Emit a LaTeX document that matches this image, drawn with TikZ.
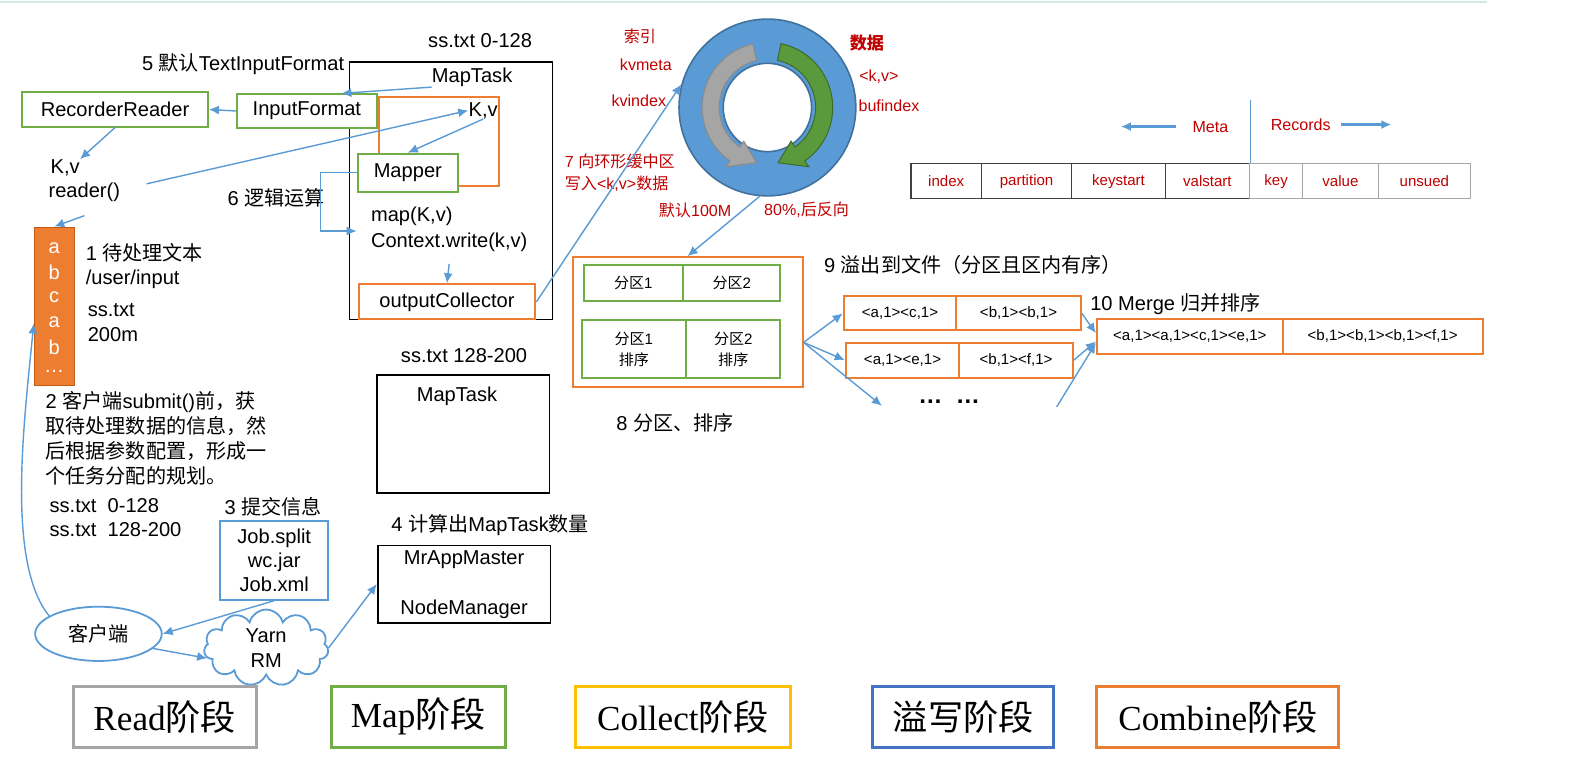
\documentclass[tikz,border=0pt]{standalone}
\usepackage{fontspec}
\setmainfont{Liberation Sans}
\newfontfamily\cjk{Noto Sans CJK SC}
\newfontfamily\stagefont{Liberation Serif}
\usepackage{tikz}
\usetikzlibrary{arrows.meta,shapes.geometric,shapes.symbols,calc}
\usepackage{xcolor}
\newcommand{\zh}[1]{{\cjk #1}}
\definecolor{linkblue}{HTML}{5B9BD5}
\definecolor{mapgreen}{HTML}{70AD47}
\definecolor{comborange}{HTML}{ED7D31}
\definecolor{baredge}{HTML}{C55A11}
\definecolor{idxred}{HTML}{C00000}
\definecolor{ringblue}{HTML}{5B9BD5}
\definecolor{ringedge}{HTML}{41719C}
\definecolor{arrgray}{HTML}{A5A5A5}
\definecolor{arrgrayedge}{HTML}{8A8A8A}
\definecolor{arrgreen}{HTML}{5B9A3C}
\definecolor{arrgreenedge}{HTML}{3E6B28}
\definecolor{stagegray}{HTML}{A5A5A5}
\definecolor{stageyellow}{HTML}{FFC000}
\definecolor{stageblue}{HTML}{4472C4}
\definecolor{toprule}{HTML}{D3E9E5}
\definecolor{tabdark}{HTML}{404040}
\definecolor{tablight}{HTML}{A6A6A6}

\begin{document}
\begin{tikzpicture}[x=0.5pt,y=-0.5pt,
  txt/.style={inner sep=0pt, font=\fontsize{10}{12.5}\selectfont},
  redtxt/.style={inner sep=0pt, text=idxred, font=\fontsize{8}{11}\selectfont},
  smalltxt/.style={font=\fontsize{7.5}{10.5}\selectfont},
  gbox/.style={draw=mapgreen, line width=1pt, fill=white, inner sep=0pt, align=center, font=\fontsize{10}{12.5}\selectfont},
  obox/.style={draw=comborange, line width=1pt, fill=white, inner sep=0pt, align=center, font=\fontsize{10}{12.5}\selectfont},
  kbox/.style={draw=black, line width=0.9pt, inner sep=0pt},
  cell/.style={draw=#1, line width=0.6pt, inner sep=0pt, minimum height=17.5pt, text=idxred, font=\fontsize{7.5}{9}\selectfont},
  arr/.style={draw=linkblue, line width=0.7pt, -{Latex[length=5pt,width=4.5pt]}},
  stagebox/.style={draw=#1, line width=1.5pt, inner sep=0pt, minimum height=30.5pt, font=\stagefont\fontsize{17.5}{20}\selectfont},
]
\useasboundingbox (0,0) rectangle (1568,776);
\draw[toprule, line width=1.2pt] (0,2) -- (1480,2);

% map task with its reader and mapper
\node[txt] (ss1) at (478,40) {ss.txt 0-128};
\node[txt] (fmtlbl) at (242,64) {5 \zh{默认}TextInputFormat};
\node[kbox, minimum width=101pt, minimum height=128pt] (maptask) at (449,190) {};
\node[txt] (maptxt) at (470,77) {MapTask};
\node[draw=comborange, line width=1pt, minimum width=60pt, minimum height=44pt] (kvbox) at (437,141) {};
\node[gbox, minimum width=92.5pt, minimum height=17pt] (reader) at (114.5,109) {RecorderReader};
\node[gbox, minimum width=69.5pt, minimum height=16.5pt] (inputfmt) at (305.5,110.5) {InputFormat};
\node[txt] (kv2) at (481,110) {K,v};
\node[gbox, minimum width=50pt, minimum height=19pt] (mapper) at (406,172) {Mapper};
\node[txt, anchor=west] (mapcall) at (369,215) {map(K,v)};
\node[txt, anchor=west] (ctxw) at (369,241) {Context.write(k,v)};
\node[obox, minimum width=88pt, minimum height=17.5pt] (collector) at (445,300.5) {outputCollector};
\node[txt] (logic) at (275,197) {6 \zh{逻辑运算}};
\node[txt, anchor=west] (kv1) at (50,167) {K,v};
\node[txt, anchor=west] (readr) at (48,191) {reader()};
\coordinate (mapin) at (355,230);

\draw[arr] (maptxt.south west) -- (inputfmt.27);
\draw[arr] (inputfmt.west) -- (reader.east);
\draw[arr] (reader.south) -- (kv1.north east);
\draw[arr] ([xshift=13pt,yshift=4pt]readr.east) -- (kv2.west);
\draw[arr] (kv2.south) -- (mapper.north);
\draw[arr] (mapper.west) -- ++(-36,0) |- (mapin);
\draw[arr] ([yshift=-6pt]ctxw.south) -- (collector.north);

% input file
\node[draw=baredge, fill=comborange, minimum width=20pt, minimum height=79pt, inner sep=0pt] (bar) at (54,305) {};
\foreach \ch [count=\i] in {a,b,c,a,b,…}
  \node[txt, text=white] (ch\i) at (54,{247+24.6*(\i-1)}) {\ch};
\node[txt, anchor=west] (t1a) at (85,252) {1 \zh{待处理文本}};
\node[txt, anchor=west] (t1b) at (85,278) {/user/input};
\node[txt, anchor=west] (t1c) at (87,309) {ss.txt};
\node[txt, anchor=west] (t1d) at (87,333) {200m};
\draw[arr] ([yshift=-7pt]readr.south) -- (bar.north);

\node[txt, anchor=north west, align=left] (t2) at (45,389)
  {2 \zh{客户端}submit()\zh{前，获}\\ \zh{取待处理数据的信息，然}\\ \zh{后根据参数配置，形成一}\\ \zh{个任务分配的规划。}};
\node[txt, anchor=west] (sp1) at (49,503) {ss.txt\ \ 0-128};
\node[txt, anchor=west] (sp2) at (49,527) {ss.txt\ \ 128-200};

% submission
\node[txt] (t3) at (272,505) {3 \zh{提交信息}};
\node[draw=linkblue, line width=1pt, minimum width=54pt, minimum height=39pt, inner sep=0pt, align=center, font=\fontsize{10}{12}\selectfont] (jobbox) at (273,558) {Job.split\\wc.jar\\Job.xml};
\node[txt] (t4) at (488,523) {4 \zh{计算出}MapTask\zh{数量}};
\node[kbox, minimum width=86pt, minimum height=38.5pt] (appmaster) at (462,581.5) {};
\node[txt] (mrapp) at (462,557) {MrAppMaster};
\node[txt] (nodemgr) at (462,607) {NodeManager};
\node[txt] (ss2) at (462,354) {ss.txt 128-200};
\node[kbox, minimum width=86pt, minimum height=59pt] (maptask2) at (461,432) {};
\node[txt] (maptxt2) at (455,395) {MapTask};
\node[ellipse, draw=linkblue, line width=0.9pt, minimum width=63pt, minimum height=27pt, inner sep=0pt, font=\fontsize{10}{12}\selectfont] (client) at (98,631) {\zh{客户端}};
\node[cloud, cloud puffs=11, aspect=2, draw=linkblue, line width=0.9pt, minimum width=62pt, minimum height=31pt, inner sep=0pt, align=center, font=\fontsize{10}{12.5}\selectfont] (yarn) at (265,645) {Yarn\\RM};

\draw[arr] (jobbox.south) -- (client.east);
\draw[arr] (client.-15) -- (yarn.190);
\draw[arr] (yarn.east) -- (appmaster.west);
\draw[arr] (client.160) .. controls (6,560) and (24,420) .. (bar.220);

% ring buffer
\node[circle, fill=ringblue, draw=ringedge, line width=0.8pt, minimum size=88pt, inner sep=0pt] (ring) at (764,107) {};
\node[circle, fill=white, draw=ringedge, line width=0.8pt, minimum size=44pt, inner sep=0pt] (hole) at (764,107) {};
\begin{scope}[shift={(764,107)}, yscale=-1]
  \filldraw[fill=arrgray, draw=arrgrayedge, line width=0.5pt]
    (103:65) arc[start angle=103, end angle=235, radius=65] -- (235:72) -- (259:56)
    -- (235:41) -- (235:48) arc[start angle=235, end angle=103, radius=48] -- cycle;
  \filldraw[fill=arrgreen, draw=arrgreenedge, line width=0.5pt]
    (78:65) arc[start angle=78, end angle=-55, radius=65] -- (-55:72) -- (-79:56)
    -- (-55:41) -- (-55:48) arc[start angle=-55, end angle=78, radius=48] -- cycle;
\end{scope}
\node[redtxt] (suoyin) at (637,36) {\zh{索引}};
\node[redtxt] (kvmeta) at (643,64) {kvmeta};
\node[redtxt] (kvindex) at (636,100) {kvindex};
\node[redtxt, font=\fontsize{8.5}{11}\selectfont] (shuju) at (863,43) {\zh{\bfseries 数据}};
\node[redtxt] (kvpair) at (875,76) {<k,v>};
\node[redtxt] (bufindex) at (885,105) {bufindex};
\node[redtxt, anchor=west, align=left] (t7) at (562,172) {7 \zh{向环形缓中区}\\\zh{写入}<k,v>\zh{数据}};
\node[redtxt] (dflt) at (692,209) {\zh{默认}100M};
\node[redtxt] (pct) at (803,209) {80\%,\zh{后反向}};

\draw[arr] (collector.east) -- (ring.165);

% meta / records layout
\node[redtxt] (meta) at (1205,126) {Meta};
\node[redtxt] (recs) at (1295,124) {Records};
\draw[arr, line width=1.3pt] ([xshift=-8pt]meta.west) -- ++(-55,0);
\draw[arr, line width=1.3pt] ([xshift=5pt]recs.east) -- ++(50,0);
\foreach \nm/\lab/\cx/\w/\col in {cidx/index/942/35/tabdark, cpart/partition/1022/45/tabdark,
    ckey/keystart/1113.5/46.5/tabdark, valstart/valstart/1202/42/tabdark,
    ckk/key/1270.5/26.5/tablight, cval/value/1334.5/37.5/tablight, cfree/unsued/1418/46/tablight}
  \node[cell=\col, minimum width=\w pt] (\nm) at (\cx,180.5) {\lab};
\draw[linkblue, line width=0.5pt] (valstart.north east) -- ++(0,-63);

% partition and sort
\node[draw=comborange, line width=1pt, minimum width=114.5pt, minimum height=64.5pt] (partbox) at (684.5,320.5) {};
\node[gbox, smalltxt, minimum width=49.5pt, minimum height=18pt] (p1) at (630.5,282) {\zh{分区}1};
\node[gbox, smalltxt, minimum width=48.5pt, minimum height=18pt] (p2) at (728.5,282) {\zh{分区}2};
\node[gbox, smalltxt, minimum width=52pt, minimum height=28.5pt] (p1s) at (631,347.5) {\zh{分区}1\\\zh{排序}};
\node[gbox, smalltxt, minimum width=47pt, minimum height=28.5pt] (p2s) at (730,347.5) {\zh{分区}2\\\zh{排序}};
\node[txt] (t8) at (672,421) {8 \zh{分区、排序}};
\draw[arr] (ring.-95) -- (partbox.north);

% spill files
\node[txt, anchor=west] (t9) at (820,264) {9 \zh{溢出到文件（分区且区内有序）}};
\node[obox, smalltxt, minimum width=56pt, minimum height=17pt] (s1a) at (896,312) {<a,1><c,1>};
\node[obox, smalltxt, minimum width=62pt, minimum height=17pt] (s1b) at (1014,312) {<b,1><b,1>};
\node[obox, smalltxt, minimum width=56.5pt, minimum height=17.5pt] (s2a) at (898.5,358.5) {<a,1><e,1>};
\node[obox, smalltxt, minimum width=56.5pt, minimum height=17.5pt] (s2b) at (1011.5,358.5) {<b,1><f,1>};
\node[txt, font=\bfseries\fontsize{12}{12}\selectfont] (dots) at (945,400) {…\ \ …};
\coordinate (dotsL) at (878,404);
\coordinate (dotsR) at (1052,405);
\draw[arr] (partbox.-10) -- (s1a.west);
\draw[arr] (partbox.-10) -- (s2a.west);
\draw[arr] (partbox.-10) -- (dotsL);

% merge
\node[txt, anchor=west] (t10) at (1085,303) {10 Merge \zh{归并排序}};
\node[obox, smalltxt, minimum width=92.5pt, minimum height=17pt] (m1) at (1184.5,335) {<a,1><a,1><c,1><e,1>};
\node[obox, smalltxt, minimum width=99.5pt, minimum height=17pt] (m2) at (1376.5,335) {<b,1><b,1><b,1><f,1>};
\draw[arr] (s1b.east) -- (m1.178);
\draw[arr] (s2b.east) -- (m1.183);
\draw[arr] (dotsR) -- (m1.184);

% stage legend
\node[stagebox=stagegray, minimum width=91pt] (stread) at (164,713.5) {Read\zh{阶段}};
\node[stagebox=mapgreen, minimum width=86.5pt] (stmap) at (416.5,713.5) {Map\zh{阶段}};
\node[stagebox=stageyellow, minimum width=107pt] (stcollect) at (680,713.5) {Collect\zh{阶段}};
\node[stagebox=stageblue, minimum width=90pt] (stspill) at (959,713.5) {\zh{溢写阶段}};
\node[stagebox=comborange, minimum width=120.5pt] (stcombine) at (1212.5,713.5) {Combine\zh{阶段}};
\end{tikzpicture}
\end{document}
